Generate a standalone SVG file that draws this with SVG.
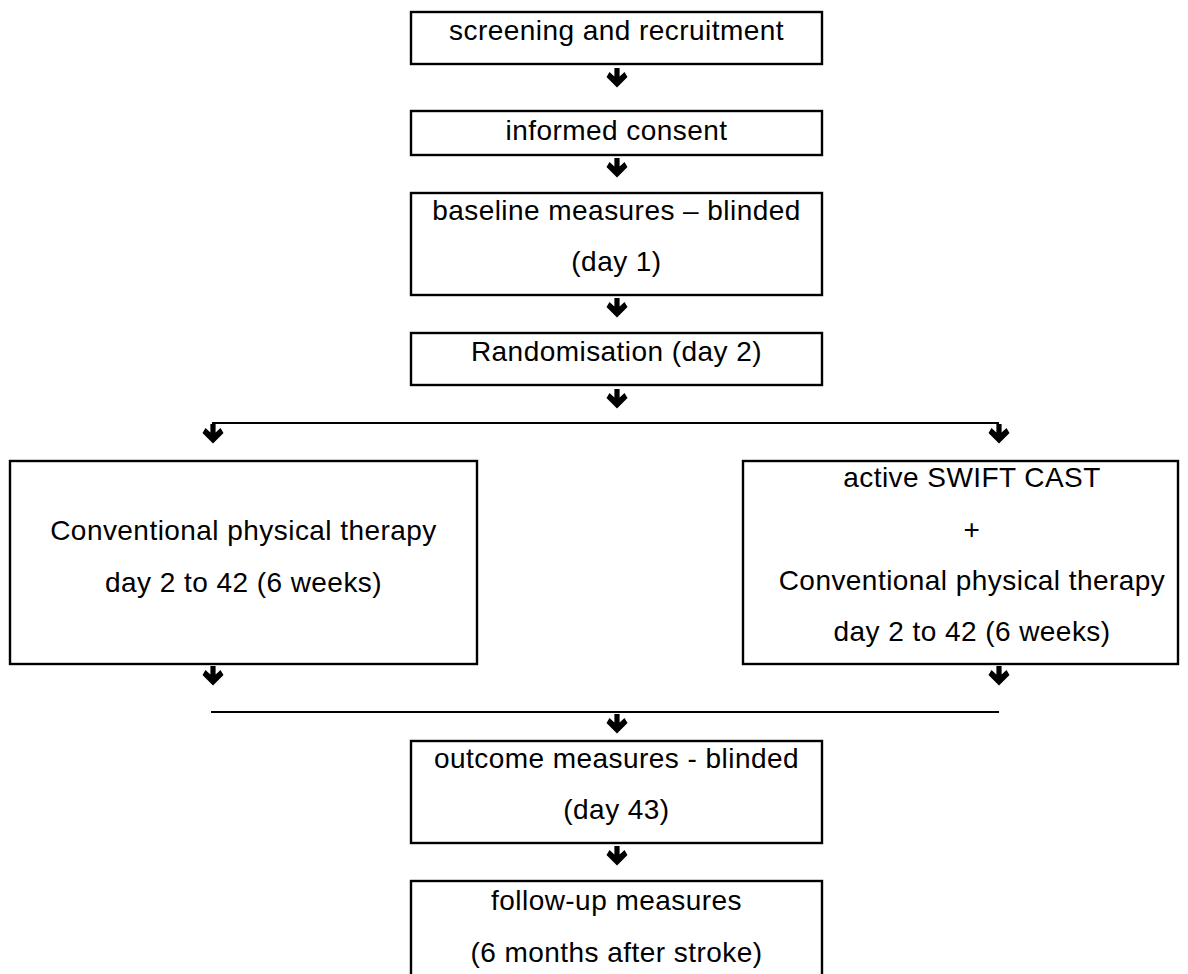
<svg xmlns="http://www.w3.org/2000/svg" xmlns:xlink="http://www.w3.org/1999/xlink" width="1188" height="974" viewBox="0 0 1188 974">
<style>
.box{fill:#fff;stroke:#000;stroke-width:2.4}
.ln{fill:none;stroke:#000;stroke-width:2.2}
text{font-family:"Liberation Sans",Arial,sans-serif;font-size:28px;letter-spacing:0.45px;fill:#000;text-anchor:middle}
</style>
<defs>
<path id="arr" d="M-2.6,0 H2.6 V8.5 L7.5,4 L10.5,9 L0,19.5 L-10.5,9 L-7.5,4 L-2.6,8.5 Z" fill="#000"/>
</defs>
<rect width="1188" height="974" fill="#fff"/>
<g id="connectors">
<use xlink:href="#arr" x="617" y="68"/>
<use xlink:href="#arr" x="617" y="158"/>
<use xlink:href="#arr" x="617" y="298"/>
<use xlink:href="#arr" x="617" y="389"/>
<path class="ln" d="M212,423 H999"/>
<use xlink:href="#arr" x="213" y="424"/>
<use xlink:href="#arr" x="999" y="424"/>
<use xlink:href="#arr" x="213" y="666"/>
<use xlink:href="#arr" x="999" y="666"/>
<path class="ln" d="M211,712 H999"/>
<use xlink:href="#arr" x="617" y="714"/>
<use xlink:href="#arr" x="617" y="846"/>
</g>
<g id="n1"><rect class="box" x="411" y="12" width="411" height="52"/><text x="616.5" y="40">screening and recruitment</text></g>
<g id="n2"><rect class="box" x="411" y="111" width="411" height="44"/><text x="616.5" y="140">informed consent</text></g>
<g id="n3"><rect class="box" x="411" y="193" width="411" height="102"/><text x="616.5" y="220">baseline measures – blinded</text><text x="616.5" y="271">(day 1)</text></g>
<g id="n4"><rect class="box" x="411" y="333" width="411" height="52"/><text x="616.5" y="361">Randomisation (day 2)</text></g>
<g id="n5"><rect class="box" x="10" y="461" width="467" height="203"/><text x="243.5" y="540">Conventional physical therapy</text><text x="243.5" y="592">day 2 to 42 (6 weeks)</text></g>
<g id="n6"><rect class="box" x="743" y="461" width="435" height="203"/><text x="972" y="487">active SWIFT CAST</text><text x="972" y="539">+</text><text x="972" y="590">Conventional physical therapy</text><text x="972" y="641">day 2 to 42 (6 weeks)</text></g>
<g id="n7"><rect class="box" x="411" y="741" width="411" height="102"/><text x="616.5" y="768">outcome measures - blinded</text><text x="616.5" y="819">(day 43)</text></g>
<g id="n8"><rect class="box" x="411" y="881" width="411" height="110"/><text x="616.5" y="910">follow-up measures</text><text x="616.5" y="962">(6 months after stroke)</text></g>
</svg>
